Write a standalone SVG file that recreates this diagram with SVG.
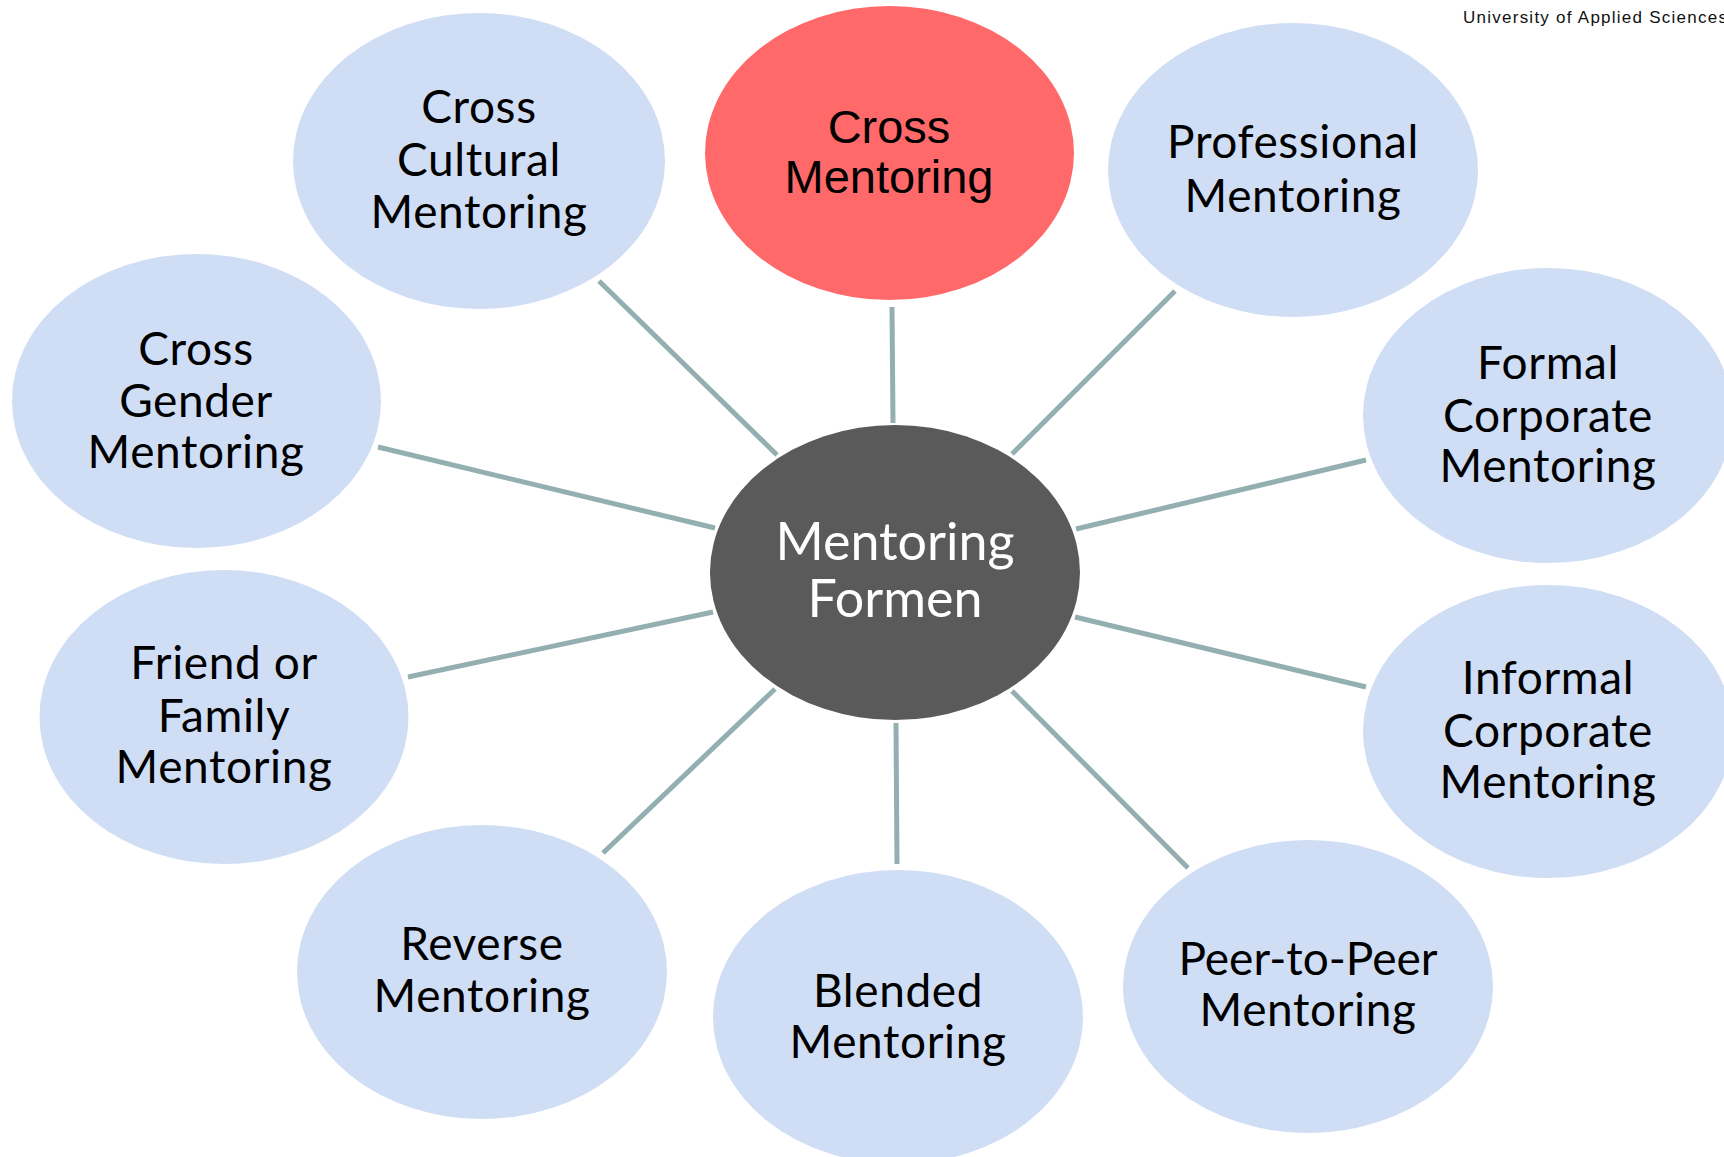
<svg xmlns="http://www.w3.org/2000/svg" width="1724" height="1157" viewBox="0 0 1724 1157">
<style>
.bg{fill:#ffffff}
.leaf{fill:#CFDDF5}
.hl{fill:#FF6969}
.hub{fill:#5A5A5A}
.conn line{stroke:#93AFB2;stroke-width:5;stroke-linecap:butt}
.t{font-family:Lato,"Open Sans","Noto Sans",sans-serif;font-size:46px;letter-spacing:0.6px;fill:#000;text-anchor:middle}
.th{font-family:"Liberation Sans",Arial,sans-serif;font-size:47px;fill:#000;text-anchor:middle}
.tc{font-family:Lato,"Open Sans","Noto Sans",sans-serif;font-size:52px;fill:#ffffff;text-anchor:middle}
.brand{font-family:"Liberation Sans",Arial,sans-serif;font-size:17px;fill:#111}
</style>
<rect class="bg" x="0" y="0" width="1724" height="1157"/>
<text class="brand" x="1463" y="23" textLength="264" lengthAdjust="spacing">University of Applied Sciences</text>
<g id="connectors" class="conn">
<line x1="892" y1="307" x2="893" y2="423"/>
<line x1="599" y1="281" x2="777" y2="455"/>
<line x1="1175" y1="291" x2="1012" y2="454"/>
<line x1="378" y1="447" x2="715" y2="528"/>
<line x1="1366" y1="460" x2="1076" y2="529"/>
<line x1="408" y1="677" x2="713" y2="612"/>
<line x1="1075" y1="617" x2="1366" y2="687"/>
<line x1="603" y1="853" x2="775" y2="689"/>
<line x1="896" y1="723" x2="897" y2="864"/>
<line x1="1012" y1="691" x2="1188" y2="868"/>
</g>
<g id="node-cross-mentoring">
<ellipse class="hl" cx="889.5" cy="153" rx="184.5" ry="147"/>
<text class="th" x="889" y="143">Cross</text>
<text class="th" x="889" y="193">Mentoring</text>
</g>
<g id="node-cross-cultural">
<ellipse class="leaf" cx="479" cy="161" rx="186" ry="148"/>
<text class="t" x="479" y="123">Cross</text>
<text class="t" x="479" y="176">Cultural</text>
<text class="t" x="479" y="228">Mentoring</text>
</g>
<g id="node-professional">
<ellipse class="leaf" cx="1293" cy="170" rx="185" ry="147"/>
<text class="t" x="1293" y="158">Professional</text>
<text class="t" x="1293" y="212">Mentoring</text>
</g>
<g id="node-cross-gender">
<ellipse class="leaf" cx="196.5" cy="401" rx="184.5" ry="147"/>
<text class="t" x="196" y="365">Cross</text>
<text class="t" x="196" y="417">Gender</text>
<text class="t" x="196" y="468">Mentoring</text>
</g>
<g id="node-formal-corporate">
<ellipse class="leaf" cx="1548" cy="415.5" rx="185" ry="147.5"/>
<text class="t" x="1548" y="379">Formal</text>
<text class="t" x="1548" y="432">Corporate</text>
<text class="t" x="1548" y="482">Mentoring</text>
</g>
<g id="node-friend-family">
<ellipse class="leaf" cx="224" cy="717" rx="184.5" ry="147"/>
<text class="t" x="224" y="679">Friend or</text>
<text class="t" x="224" y="732">Family</text>
<text class="t" x="224" y="783">Mentoring</text>
</g>
<g id="node-informal-corporate">
<ellipse class="leaf" cx="1548" cy="731.5" rx="185" ry="146.5"/>
<text class="t" x="1548" y="694">Informal</text>
<text class="t" x="1548" y="747">Corporate</text>
<text class="t" x="1548" y="798">Mentoring</text>
</g>
<g id="node-reverse">
<ellipse class="leaf" cx="482" cy="972" rx="185" ry="147"/>
<text class="t" x="482" y="960">Reverse</text>
<text class="t" x="482" y="1012">Mentoring</text>
</g>
<g id="node-blended">
<ellipse class="leaf" cx="898" cy="1017" rx="185" ry="147"/>
<text class="t" x="898" y="1007">Blended</text>
<text class="t" x="898" y="1058">Mentoring</text>
</g>
<g id="node-peer">
<ellipse class="leaf" cx="1308" cy="986.5" rx="185" ry="146.5"/>
<text class="t" x="1308" y="975" style="letter-spacing:0">Peer-to-Peer</text>
<text class="t" x="1308" y="1026">Mentoring</text>
</g>
<g id="node-hub">
<ellipse class="hub" cx="895" cy="572.5" rx="185" ry="147.5"/>
<text class="tc" x="895" y="560">Mentoring</text>
<text class="tc" x="895" y="617">Formen</text>
</g>
</svg>
